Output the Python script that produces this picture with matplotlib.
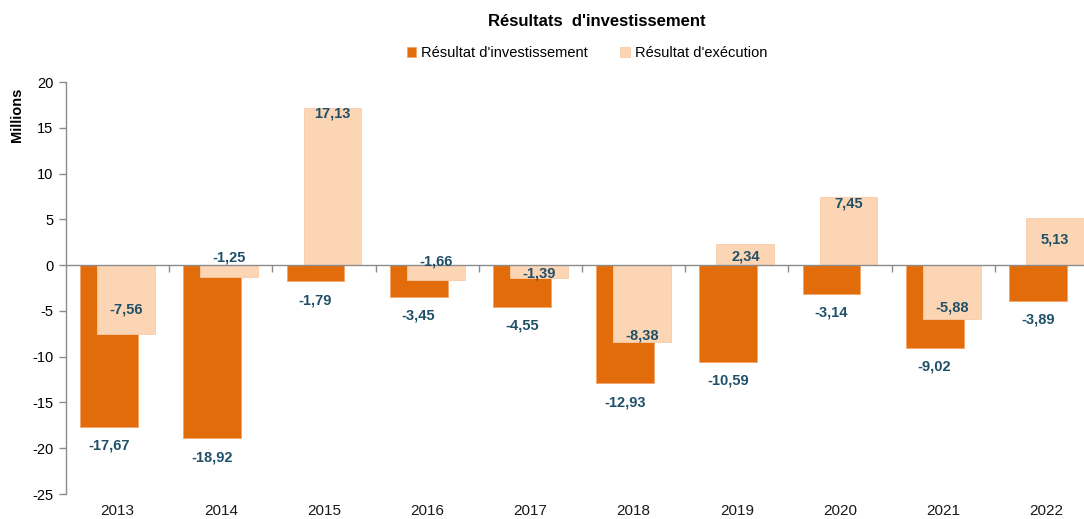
import matplotlib
matplotlib.use('Agg')
import matplotlib.pyplot as plt
import numpy as np

plt.rcParams['font.family'] = ['Liberation Sans', 'DejaVu Sans']
plt.rcParams['axes.unicode_minus'] = False

annees = ['2013', '2014', '2015', '2016', '2017', '2018', '2019', '2020', '2021', '2022']
investissement = [-17.67, -18.92, -1.79, -3.45, -4.55, -12.93, -10.59, -3.14, -9.02, -3.89]
execution = [-7.56, -1.25, 17.13, -1.66, -1.39, -8.38, 2.34, 7.45, -5.88, 5.13]

# the execution labels were moved by hand in the original (in millions)
decalage_exec = [2.66, 2.05, -0.6, 2.06, 0.5, 0.7, -1.44, -0.75, 1.28, -2.3]

ORANGE = '#E36C0A'
PECHE = '#FCD5B5'
BLEU = '#1F5068'
GRIS = '#8C8C8C'


def fmt(v):
    return ('%.2f' % v).replace('.', ',')


fig = plt.figure(figsize=(10.84, 5.19), dpi=100)
W, H = 1084, 519
ax = fig.add_axes([66 / W, (H - 494) / H, (1098 - 66) / W, (494 - 82) / H])

x = np.arange(len(annees))
larg = 0.56
dx = 0.083

ax.bar(x - dx, investissement, larg, color=ORANGE, edgecolor='#F3A56C',
       linewidth=0.6, zorder=2, label="Résultat d'investissement")
ax.bar(x + dx, execution, larg, color=PECHE, edgecolor='#F8CCA8',
       linewidth=0.6, zorder=3, label="Résultat d'exécution")

for i in range(len(annees)):
    ax.text(x[i] - dx, investissement[i] - 2.05, fmt(investissement[i]),
            ha='center', va='center', color=BLEU, fontsize=10.5,
            fontweight='bold', zorder=5)
    ax.text(x[i] + dx, execution[i] + decalage_exec[i], fmt(execution[i]),
            ha='center', va='center', color=BLEU, fontsize=10.5,
            fontweight='bold', zorder=5)

ax.set_xlim(-0.5, len(annees) - 0.5)
ax.set_ylim(-25, 20)
ax.set_yticks(range(-25, 21, 5))
ax.tick_params(axis='y', direction='out', length=5, width=1, color=GRIS,
               labelsize=10.5, pad=4)

for s in ['top', 'right']:
    ax.spines[s].set_visible(False)
ax.spines['left'].set_color(GRIS)
ax.spines['left'].set_linewidth(1)
ax.spines['bottom'].set_position(('data', 0))
ax.spines['bottom'].set_color(GRIS)
ax.spines['bottom'].set_linewidth(1)
ax.spines['bottom'].set_zorder(4)

ax.set_xticks(x[:-1] + 0.5)
ax.set_xticklabels([])
ax.tick_params(axis='x', direction='out', length=5, width=1, color=GRIS)

for i, a in enumerate(annees):
    ax.text(x[i], -0.042, a, transform=ax.get_xaxis_transform(),
            ha='center', va='center', fontsize=11, color='#1a1a1a')

fig.text(597 / W, 1 - 21 / H, "Résultats  d'investissement", ha='center',
         va='center', fontsize=12, fontweight='bold')
fig.text(17 / W, 1 - 115 / H, 'Millions', rotation=90, ha='center',
         va='center', fontsize=10.5, fontweight='bold')

fig.legend(loc='center', bbox_to_anchor=(587 / W, 1 - 53 / H), ncol=2,
           frameon=False, fontsize=10.5, handlelength=0.65, handleheight=0.65,
           handletextpad=0.35, columnspacing=2.2)

fig.savefig('out.png', dpi=100)
